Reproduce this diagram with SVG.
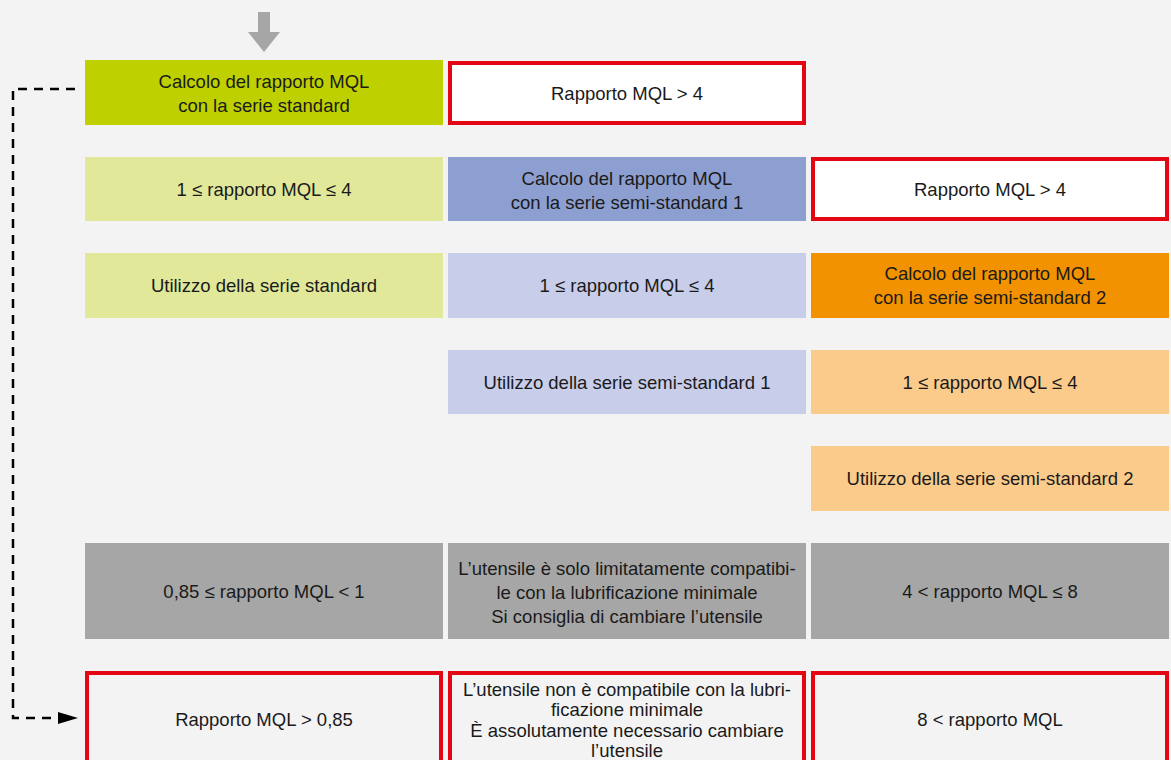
<svg xmlns="http://www.w3.org/2000/svg" width="1171" height="760" viewBox="0 0 1171 760">
<defs>
<style>
text{font-family:"Liberation Sans",Arial,sans-serif;font-size:18.5px;fill:#1a1a1a;text-anchor:middle;}
.red{fill:#ffffff;stroke:#e30613;stroke-width:4;}
.redn{fill:none;stroke:#e30613;stroke-width:4;}
</style>
</defs>
<rect x="0" y="0" width="1171" height="760" fill="#f3f3f3"/>
<g id="start-arrow"><path d="M258,12 H270 V32 H280 L264,52 L248,32 H258 Z" fill="#a6a6a6"/></g>
<g id="connectors">
<path d="M75,89 H13 V718 H68" fill="none" stroke="#000" stroke-width="2.5" stroke-dasharray="9,7"/>
<path d="M58,712 L78,718 L58,724 Z" fill="#000"/>
</g>
<g id="n1"><rect x="85" y="60" width="358" height="65" fill="#bfd000"/><text x="264" y="88">Calcolo del rapporto MQL</text><text x="264" y="112">con la serie standard</text></g>
<g id="n2"><rect x="450" y="63" width="354" height="60" class="red"/><text x="627" y="100">Rapporto MQL &gt; 4</text></g>
<g id="n3"><rect x="85" y="157" width="358" height="64" fill="#e1e89a"/><text x="264" y="196">1 ≤ rapporto MQL ≤ 4</text></g>
<g id="n4"><rect x="448" y="157" width="358" height="64" fill="#8d9fd0"/><text x="627" y="185">Calcolo del rapporto MQL</text><text x="627" y="209">con la serie semi-standard 1</text></g>
<g id="n5"><rect x="813" y="159" width="354" height="60" class="red"/><text x="990" y="196">Rapporto MQL &gt; 4</text></g>
<g id="n6"><rect x="85" y="253" width="358" height="65" fill="#e1e89a"/><text x="264" y="292">Utilizzo della serie standard</text></g>
<g id="n7"><rect x="448" y="253" width="358" height="65" fill="#c8cde9"/><text x="627" y="292">1 ≤ rapporto MQL ≤ 4</text></g>
<g id="n8"><rect x="811" y="253" width="358" height="65" fill="#f39200"/><text x="990" y="280">Calcolo del rapporto MQL</text><text x="990" y="304">con la serie semi-standard 2</text></g>
<g id="n9"><rect x="448" y="350" width="358" height="64" fill="#c8cde9"/><text x="627" y="389">Utilizzo della serie semi-standard 1</text></g>
<g id="n10"><rect x="811" y="350" width="358" height="64" fill="#fbcb8b"/><text x="990" y="389">1 ≤ rapporto MQL ≤ 4</text></g>
<g id="n11"><rect x="811" y="446" width="358" height="65" fill="#fbcb8b"/><text x="990" y="485">Utilizzo della serie semi-standard 2</text></g>
<g id="n12"><rect x="85" y="543" width="358" height="96" fill="#a6a6a6"/><text x="264" y="598">0,85 ≤ rapporto MQL &lt; 1</text></g>
<g id="n13"><rect x="448" y="543" width="358" height="96" fill="#a6a6a6"/><text x="627" y="575">L’utensile è solo limitatamente compatibi-</text><text x="627" y="599">le con la lubrificazione minimale</text><text x="627" y="623">Si consiglia di cambiare l’utensile</text></g>
<g id="n14"><rect x="811" y="543" width="358" height="96" fill="#a6a6a6"/><text x="990" y="598">4 &lt; rapporto MQL ≤ 8</text></g>
<g id="n15"><rect x="87" y="673" width="354" height="100" class="redn"/><text x="264" y="726">Rapporto MQL &gt; 0,85</text></g>
<g id="n16"><rect x="450" y="673" width="354" height="100" class="redn"/><text x="627" y="696">L’utensile non è compatibile con la lubri-</text><text x="627" y="716">ficazione minimale</text><text x="627" y="737">È assolutamente necessario cambiare</text><text x="627" y="757">l’utensile</text></g>
<g id="n17"><rect x="813" y="673" width="354" height="100" class="redn"/><text x="990" y="726">8 &lt; rapporto MQL</text></g>
</svg>
